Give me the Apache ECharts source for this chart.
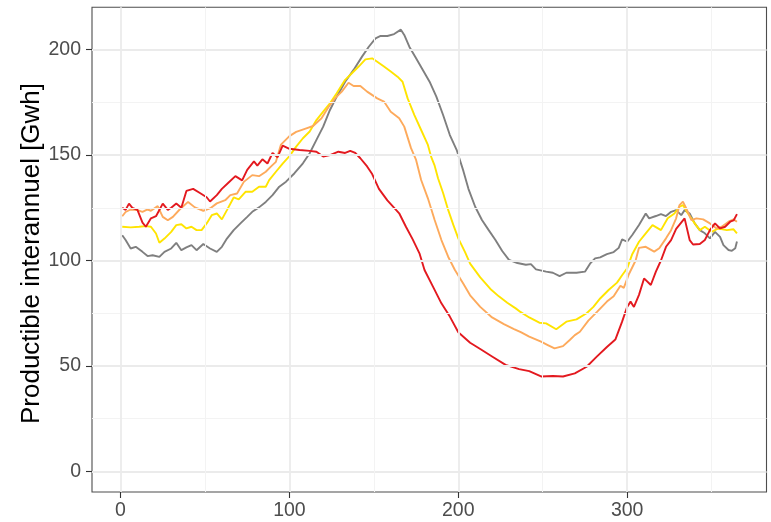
<!DOCTYPE html>
<html>
<head>
<meta charset="utf-8">
<script src="https://cdn.jsdelivr.net/npm/echarts@6/dist/echarts.min.js"></script>
<style>
  html, body { margin: 0; padding: 0; background: #ffffff; }
  #chart { width: 771px; height: 522px; }
</style>
</head>
<body>
<div id="chart"></div>
<script>
// Tick labels
const xTicks = [0, 100, 200, 300];
const yTicks = [0, 50, 100, 150, 200];
const xMinorGrid = [50, 150, 250, 350];
const yMinorGrid = [25, 75, 125, 175];

// Day of year / productible (GWh) for each curve
const grayDays = [1,3,6,9,13,16,19,23,26,30,33,36,39,42,45,49,53,57,60,63,67,71,75,78,82,86,90,94,98,103,108,112,116,120,124,128,133,138,143,147,151,154,158,162,166,168,171,175,179,183,187,191,195,199,203,206,210,214,218,222,226,230,235,240,243,246,252,256,260,264,270,275,278,281,284,288,292,295,297,300,303,307,311,313,317,320,323,326,329,332,334,337,340,343,346,349,352,355,357,360,362,364,365];
const grayValues = [112,109.7,105.7,106.5,104.1,102.1,102.5,101.7,104.1,105.7,108.4,104.9,106.2,107.3,104.9,107.8,105.7,104.1,106.5,110.4,114.4,117.6,120.7,123.1,125.2,127.8,131,135,137.4,141.4,146.1,150.9,157.2,163.5,171.4,177.7,184.8,190.4,196.7,201.4,205.4,206.5,206.5,207.4,209.5,207,201.4,195.9,190.4,184.8,177.7,169,159.5,152.5,142.5,134,125.5,119.2,114.4,109.7,104.5,100.3,98.8,98,98.3,95.8,94.7,94.2,92.6,94.2,94.2,94.7,98.5,101,101.5,103,104,106,110,108.9,112.1,116.8,122.3,120,121.1,122,121.1,123.1,123.9,121.5,123.9,122.3,117.6,114.4,112.9,110.5,113.6,111.2,107.3,105,104.6,105.8,109];

const yellowDays = [1,6,11,15,18,21,23,26,30,33,36,39,42,45,48,51,54,57,60,63,67,70,74,78,82,86,88,92,96,100,104,108,112,116,120,124,128,133,137,141,145,149,152,156,160,164,167,170,174,178,182,184,186,188,191,194,197,200,204,207,213,219,224,229,234,237,242,248,252,258,264,270,276,280,284,289,294,297,300,303,307,311,315,320,324,328,331,333,336,340,343,346,350,354,359,363,365];
const yellowValues = [116,115.7,116,116.3,116,112.8,108.4,110.4,113.6,116.8,117.2,115.2,116,114.4,114.4,117.6,121.5,122.3,119.5,123.9,129.9,129,132.6,132.6,135,135,138.1,142.1,146,149.5,154,158,161.2,166.6,170.6,174.6,179.3,185.7,188.8,192,195.4,195.9,194.3,192,189.6,187.2,184.8,176.9,169,161.9,154.8,149,145,139,132,124,117,110.5,104,98.5,92,86.5,83,80,77.3,75.5,73,70.5,70.2,67.4,71,72.1,75,78,82,86,89.5,93,96.3,103,108.9,112.9,116.8,114.4,120,122.3,125.5,126.3,122.3,117.6,114.4,116,113.6,115.2,114.4,114.8,112.9];

const orangeDays = [1,3,6,10,13,16,18,22,25,28,31,35,40,44,49,53,57,62,65,69,73,78,82,86,89,92,95,100,104,110,114,119,123,127,131,135,138,142,146,152,156,160,165,168,172,175,178,182,186,190,194,198,203,207,213,220,227,233,237,242,249,253,257,262,266,269,272,277,282,288,292,296,298,301,305,307,311,316,319,323,326,329,331,333,335,338,341,345,349,353,356,360,363,365];
const orangeValues = [121,123,124.2,123.9,123.1,124.2,123.6,125.8,120.7,119.1,120.7,124.2,127.8,125.2,123.6,124.7,127.1,128.6,131,131.8,137.3,140.5,140,142.1,144.5,146.8,155,159,161,162.7,163.8,167.5,172.6,176.9,180.1,184.3,182.8,182.8,180.1,176.9,175.4,170.6,167.5,163.5,153.3,147.7,138.2,129.5,119.2,109.7,101.8,95.5,89,83.5,78,73,69.8,67.5,66,63.9,61.5,59.9,58.3,59.4,62.3,64.6,66.2,71.5,75.5,80.5,83,88,87,93.5,100,106,106.5,104.2,105.8,110.5,114.4,120,126.3,127.9,124.7,119.2,120,119.5,117.6,115.2,116,118.4,119.5,118.4];

const redDays = [1,3,5,7,10,13,15,18,21,25,28,30,33,36,39,43,47,51,53,57,60,64,68,72,75,79,81,84,87,90,93,96,100,106,112,116,120,124,129,133,136,139,142,146,149,153,158,165,169,173,177,180,185,190,195,200,207,213,220,228,236,242,249,256,262,269,276,282,288,293,297,300,302,304,307,310,314,317,320,323,326,329,334,337,339,343,346,349,352,355,358,361,363,365];
const redValues = [125,124,127,125,124,118,116,120,121,127,124,125,127,125,133,134,132,130,128,131,134,137,140,138,143,147,145,148,146,151,149,154.5,153,152.4,152,151.6,149.3,150,151.6,151,152,151,148.5,144.6,141,134,128.5,122.4,116,110,103.4,95.5,87.6,79.7,73.4,66,61,58,54.5,50.5,48.5,47.5,45,45.2,45,46.5,49.6,54.4,59,62.5,71,78,80.5,78,83.7,91.5,88.4,94.7,100,106.5,109.7,115,120,109.7,107.6,107.8,109.7,114.4,117.6,115.2,116,118.4,119,122];

const yTitle = 'Productible interannuel [Gwh]';

const FONT = '"Liberation Sans", Arial, Helvetica, sans-serif';
const pairs = (days, vals) => days.map((d, i) => [d, vals[i]]);

function curve(name, color, days, vals) {
  return {
    name: name,
    type: 'line',
    data: pairs(days, vals),
    showSymbol: false,
    smooth: false,
    lineStyle: { color: color, width: 1.9 },
    itemStyle: { color: color },
    z: 3,
    silent: true,
    animation: false
  };
}

// Panel grid lines (major and minor, as in a classic light theme)
const majorGrid = { color: '#EBEBEB', width: 1.8, type: 'solid' };
const minorGrid = { color: '#F3F3F3', width: 1, type: 'solid' };
const gridLineData = []
  .concat(yTicks.map(v => ({ yAxis: v, lineStyle: majorGrid })))
  .concat(yMinorGrid.map(v => ({ yAxis: v, lineStyle: minorGrid })))
  .concat(xTicks.map(v => ({ xAxis: v, lineStyle: majorGrid })))
  .concat(xMinorGrid.map(v => ({ xAxis: v, lineStyle: minorGrid })));

const chart = echarts.init(document.getElementById('chart'), null, { renderer: 'canvas' });
chart.setOption({
  animation: false,
  backgroundColor: '#ffffff',
  grid: {
    left: 92, top: 7.3, width: 674.5, height: 484.7,
    show: true, borderColor: '#4D4D4D', borderWidth: 1.1, backgroundColor: 'transparent',
    containLabel: false
  },
  xAxis: {
    type: 'value', min: -16.9, max: 382.5,
    axisLine: { show: false, onZero: false },
    axisTick: { show: true, length: 6, customValues: xTicks, lineStyle: { color: '#333333', width: 1.1 } },
    axisLabel: { show: true, customValues: xTicks, margin: 9, color: '#4D4D4D', fontSize: 19.5, fontFamily: FONT },
    splitLine: { show: false }
  },
  yAxis: {
    type: 'value', min: -9.8, max: 220.1,
    axisLine: { show: false, onZero: false },
    axisTick: { show: true, length: 6, customValues: yTicks, lineStyle: { color: '#333333', width: 1.1 } },
    axisLabel: { show: true, customValues: yTicks, margin: 11, color: '#4D4D4D', fontSize: 19.5, fontFamily: FONT },
    splitLine: { show: false }
  },
  graphic: [{
    type: 'text',
    x: 31.5, y: 253.5,
    rotation: Math.PI / 2,
    style: {
      text: yTitle,
      fill: '#000000',
      font: '26px ' + FONT,
      textAlign: 'center',
      textVerticalAlign: 'middle'
    }
  }],
  series: [
    {
      name: 'grid',
      type: 'line',
      data: [],
      silent: true,
      z: 1,
      markLine: {
        silent: true,
        symbol: ['none', 'none'],
        label: { show: false },
        animation: false,
        data: gridLineData
      }
    },
    curve('gris', '#7F7F7F', grayDays, grayValues),
    curve('jaune', '#FFE400', yellowDays, yellowValues),
    curve('orange', '#FDAA5C', orangeDays, orangeValues),
    curve('rouge', '#E3191F', redDays, redValues)
  ]
});
</script>
</body>
</html>
